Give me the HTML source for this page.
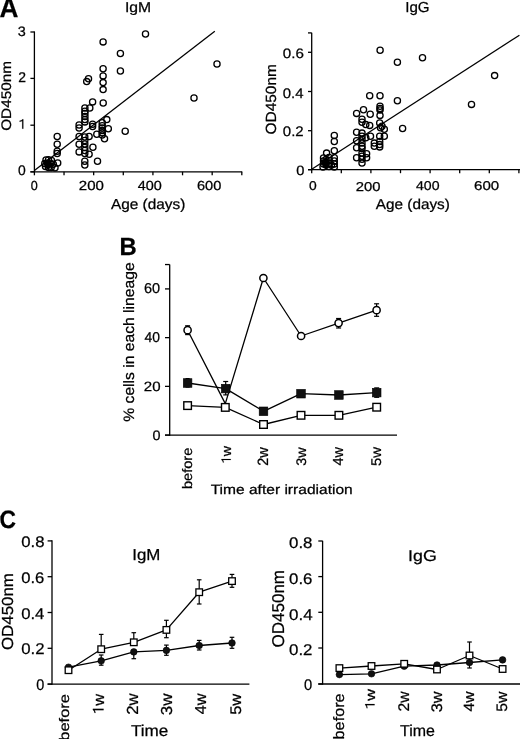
<!DOCTYPE html>
<html><head><meta charset="utf-8"><style>
html,body{margin:0;padding:0;background:#fff;}
svg{display:block;will-change:transform;}
text{font-family:"Liberation Sans", sans-serif;text-rendering:geometricPrecision;fill:#000;stroke:#000;stroke-width:0.25px;}
path{fill:#000;stroke:#000;}
</style></head><body>
<svg width="520" height="739" viewBox="0 0 520 739">
<rect id="bg" width="520" height="739" fill="#fff"/>
<line x1="34.4" y1="31.4" x2="34.4" y2="172.4" stroke="#000" stroke-width="1.3"/>
<line x1="30.4" y1="171.8" x2="242.2" y2="171.8" stroke="#000" stroke-width="1.3"/>
<line x1="30.4" y1="32" x2="34.4" y2="32" stroke="#000" stroke-width="1.3"/>
<line x1="30.4" y1="78.4" x2="34.4" y2="78.4" stroke="#000" stroke-width="1.3"/>
<line x1="30.4" y1="125.2" x2="34.4" y2="125.2" stroke="#000" stroke-width="1.3"/>
<line x1="30.4" y1="171.8" x2="34.4" y2="171.8" stroke="#000" stroke-width="1.3"/>
<line x1="34.4" y1="171.8" x2="34.4" y2="175.3" stroke="#000" stroke-width="1.3"/>
<line x1="64.03" y1="171.8" x2="64.03" y2="175.3" stroke="#000" stroke-width="1.3"/>
<line x1="93.66" y1="171.8" x2="93.66" y2="175.3" stroke="#000" stroke-width="1.3"/>
<line x1="123.29" y1="171.8" x2="123.29" y2="175.3" stroke="#000" stroke-width="1.3"/>
<line x1="152.92" y1="171.8" x2="152.92" y2="175.3" stroke="#000" stroke-width="1.3"/>
<line x1="182.55" y1="171.8" x2="182.55" y2="175.3" stroke="#000" stroke-width="1.3"/>
<line x1="212.18" y1="171.8" x2="212.18" y2="175.3" stroke="#000" stroke-width="1.3"/>
<line x1="241.81" y1="171.8" x2="241.81" y2="175.3" stroke="#000" stroke-width="1.3"/>
<line x1="34.4" y1="170.6" x2="214.8" y2="31.2" stroke="#000" stroke-width="1.3"/>
<ellipse cx="48" cy="164.5" rx="3.8" ry="4.6" fill="#000"/>
<circle cx="103.1" cy="41.9" r="3.1" fill="none" stroke="#000" stroke-width="1.3"/>
<circle cx="120.4" cy="53.5" r="3.1" fill="none" stroke="#000" stroke-width="1.3"/>
<circle cx="145.5" cy="34" r="3.1" fill="none" stroke="#000" stroke-width="1.3"/>
<circle cx="217" cy="64" r="3.1" fill="none" stroke="#000" stroke-width="1.3"/>
<circle cx="194" cy="98" r="3.1" fill="none" stroke="#000" stroke-width="1.3"/>
<circle cx="120.4" cy="71" r="3.1" fill="none" stroke="#000" stroke-width="1.3"/>
<circle cx="103.1" cy="68.8" r="3.1" fill="none" stroke="#000" stroke-width="1.3"/>
<circle cx="103.1" cy="75.9" r="3.1" fill="none" stroke="#000" stroke-width="1.3"/>
<circle cx="103.1" cy="82.6" r="3.1" fill="none" stroke="#000" stroke-width="1.3"/>
<circle cx="103.1" cy="89.6" r="3.1" fill="none" stroke="#000" stroke-width="1.3"/>
<circle cx="88.5" cy="78.8" r="3.1" fill="none" stroke="#000" stroke-width="1.3"/>
<circle cx="86.7" cy="81.6" r="3.1" fill="none" stroke="#000" stroke-width="1.3"/>
<circle cx="92.6" cy="101.9" r="3.1" fill="none" stroke="#000" stroke-width="1.3"/>
<circle cx="103.2" cy="103" r="3.1" fill="none" stroke="#000" stroke-width="1.3"/>
<circle cx="84.9" cy="108" r="3.1" fill="none" stroke="#000" stroke-width="1.3"/>
<circle cx="84.9" cy="111.2" r="3.1" fill="none" stroke="#000" stroke-width="1.3"/>
<circle cx="84.9" cy="113.5" r="3.1" fill="none" stroke="#000" stroke-width="1.3"/>
<circle cx="84.9" cy="116.5" r="3.1" fill="none" stroke="#000" stroke-width="1.3"/>
<circle cx="84.9" cy="119.6" r="3.1" fill="none" stroke="#000" stroke-width="1.3"/>
<circle cx="84.9" cy="121.9" r="3.1" fill="none" stroke="#000" stroke-width="1.3"/>
<circle cx="89.8" cy="108" r="3.1" fill="none" stroke="#000" stroke-width="1.3"/>
<circle cx="79.1" cy="125" r="3.1" fill="none" stroke="#000" stroke-width="1.3"/>
<circle cx="79.1" cy="128" r="3.1" fill="none" stroke="#000" stroke-width="1.3"/>
<circle cx="92.6" cy="124.2" r="3.1" fill="none" stroke="#000" stroke-width="1.3"/>
<circle cx="92.6" cy="126.5" r="3.1" fill="none" stroke="#000" stroke-width="1.3"/>
<circle cx="106.8" cy="119.6" r="3.1" fill="none" stroke="#000" stroke-width="1.3"/>
<circle cx="102.2" cy="122.7" r="3.1" fill="none" stroke="#000" stroke-width="1.3"/>
<circle cx="102.2" cy="125.8" r="3.1" fill="none" stroke="#000" stroke-width="1.3"/>
<circle cx="102.2" cy="128" r="3.1" fill="none" stroke="#000" stroke-width="1.3"/>
<circle cx="102.2" cy="130.4" r="3.1" fill="none" stroke="#000" stroke-width="1.3"/>
<circle cx="102.2" cy="132.7" r="3.1" fill="none" stroke="#000" stroke-width="1.3"/>
<circle cx="102.2" cy="135" r="3.1" fill="none" stroke="#000" stroke-width="1.3"/>
<circle cx="108.3" cy="128.8" r="3.1" fill="none" stroke="#000" stroke-width="1.3"/>
<circle cx="96.8" cy="134.2" r="3.1" fill="none" stroke="#000" stroke-width="1.3"/>
<circle cx="104.5" cy="138.8" r="3.1" fill="none" stroke="#000" stroke-width="1.3"/>
<circle cx="125.2" cy="131.3" r="3.1" fill="none" stroke="#000" stroke-width="1.3"/>
<circle cx="79.1" cy="136.5" r="3.1" fill="none" stroke="#000" stroke-width="1.3"/>
<circle cx="79.1" cy="144.2" r="3.1" fill="none" stroke="#000" stroke-width="1.3"/>
<circle cx="79.1" cy="151.9" r="3.1" fill="none" stroke="#000" stroke-width="1.3"/>
<circle cx="84.8" cy="137" r="3.1" fill="none" stroke="#000" stroke-width="1.3"/>
<circle cx="84.8" cy="140.5" r="3.1" fill="none" stroke="#000" stroke-width="1.3"/>
<circle cx="84.8" cy="144" r="3.1" fill="none" stroke="#000" stroke-width="1.3"/>
<circle cx="84.8" cy="147.5" r="3.1" fill="none" stroke="#000" stroke-width="1.3"/>
<circle cx="84.8" cy="150.5" r="3.1" fill="none" stroke="#000" stroke-width="1.3"/>
<circle cx="84.8" cy="153.5" r="3.1" fill="none" stroke="#000" stroke-width="1.3"/>
<circle cx="84.8" cy="161.3" r="3.1" fill="none" stroke="#000" stroke-width="1.3"/>
<circle cx="84.8" cy="165" r="3.1" fill="none" stroke="#000" stroke-width="1.3"/>
<circle cx="89.1" cy="136.5" r="3.1" fill="none" stroke="#000" stroke-width="1.3"/>
<circle cx="92.9" cy="147.3" r="3.1" fill="none" stroke="#000" stroke-width="1.3"/>
<circle cx="89.1" cy="154.2" r="3.1" fill="none" stroke="#000" stroke-width="1.3"/>
<circle cx="97.5" cy="161.2" r="3.1" fill="none" stroke="#000" stroke-width="1.3"/>
<circle cx="57.2" cy="136.5" r="3.1" fill="none" stroke="#000" stroke-width="1.3"/>
<circle cx="57.2" cy="144.2" r="3.1" fill="none" stroke="#000" stroke-width="1.3"/>
<circle cx="57.2" cy="151.2" r="3.1" fill="none" stroke="#000" stroke-width="1.3"/>
<circle cx="57.2" cy="153.5" r="3.1" fill="none" stroke="#000" stroke-width="1.3"/>
<circle cx="46" cy="160" r="3.1" fill="none" stroke="#000" stroke-width="1.3"/>
<circle cx="48.5" cy="159.8" r="3.1" fill="none" stroke="#000" stroke-width="1.3"/>
<circle cx="44.8" cy="163.5" r="3.1" fill="none" stroke="#000" stroke-width="1.3"/>
<circle cx="47.5" cy="163" r="3.1" fill="none" stroke="#000" stroke-width="1.3"/>
<circle cx="50.2" cy="163.2" r="3.1" fill="none" stroke="#000" stroke-width="1.3"/>
<circle cx="45.5" cy="166.5" r="3.1" fill="none" stroke="#000" stroke-width="1.3"/>
<circle cx="48.5" cy="167.5" r="3.1" fill="none" stroke="#000" stroke-width="1.3"/>
<circle cx="51.2" cy="167.5" r="3.1" fill="none" stroke="#000" stroke-width="1.3"/>
<circle cx="57.7" cy="163" r="3.1" fill="none" stroke="#000" stroke-width="1.3"/>
<circle cx="55" cy="167.8" r="3.1" fill="none" stroke="#000" stroke-width="1.3"/>
<circle cx="53.3" cy="164.3" r="3.1" fill="none" stroke="#000" stroke-width="1.3"/>
<circle cx="51.5" cy="160.5" r="3.1" fill="none" stroke="#000" stroke-width="1.3"/>
<line x1="311.7" y1="32.7" x2="311.7" y2="170.3" stroke="#000" stroke-width="1.3"/>
<line x1="308" y1="169.7" x2="520" y2="169.7" stroke="#000" stroke-width="1.3"/>
<line x1="308" y1="32.9" x2="311.7" y2="32.9" stroke="#000" stroke-width="1.3"/>
<line x1="308" y1="52.3" x2="311.7" y2="52.3" stroke="#000" stroke-width="1.3"/>
<line x1="308" y1="91.5" x2="311.7" y2="91.5" stroke="#000" stroke-width="1.3"/>
<line x1="308" y1="130.7" x2="311.7" y2="130.7" stroke="#000" stroke-width="1.3"/>
<line x1="308" y1="169.7" x2="311.7" y2="169.7" stroke="#000" stroke-width="1.3"/>
<line x1="311.7" y1="169.7" x2="311.7" y2="173.2" stroke="#000" stroke-width="1.3"/>
<line x1="341.3" y1="169.7" x2="341.3" y2="173.2" stroke="#000" stroke-width="1.3"/>
<line x1="370.9" y1="169.7" x2="370.9" y2="173.2" stroke="#000" stroke-width="1.3"/>
<line x1="400.5" y1="169.7" x2="400.5" y2="173.2" stroke="#000" stroke-width="1.3"/>
<line x1="430.1" y1="169.7" x2="430.1" y2="173.2" stroke="#000" stroke-width="1.3"/>
<line x1="459.7" y1="169.7" x2="459.7" y2="173.2" stroke="#000" stroke-width="1.3"/>
<line x1="489.3" y1="169.7" x2="489.3" y2="173.2" stroke="#000" stroke-width="1.3"/>
<line x1="518.9" y1="169.7" x2="518.9" y2="173.2" stroke="#000" stroke-width="1.3"/>
<line x1="311.7" y1="169.2" x2="519.4" y2="35.2" stroke="#000" stroke-width="1.3"/>
<ellipse cx="325.8" cy="163" rx="3.6" ry="5" fill="#000"/>
<circle cx="380.1" cy="50.2" r="3.1" fill="none" stroke="#000" stroke-width="1.3"/>
<circle cx="397.4" cy="62.3" r="3.1" fill="none" stroke="#000" stroke-width="1.3"/>
<circle cx="422.5" cy="57.7" r="3.1" fill="none" stroke="#000" stroke-width="1.3"/>
<circle cx="494.6" cy="75.6" r="3.1" fill="none" stroke="#000" stroke-width="1.3"/>
<circle cx="397.4" cy="100.7" r="3.1" fill="none" stroke="#000" stroke-width="1.3"/>
<circle cx="471.5" cy="104.4" r="3.1" fill="none" stroke="#000" stroke-width="1.3"/>
<circle cx="402.6" cy="128.5" r="3.1" fill="none" stroke="#000" stroke-width="1.3"/>
<circle cx="369.7" cy="95.8" r="3.1" fill="none" stroke="#000" stroke-width="1.3"/>
<circle cx="380" cy="95.8" r="3.1" fill="none" stroke="#000" stroke-width="1.3"/>
<circle cx="356.6" cy="113.4" r="3.1" fill="none" stroke="#000" stroke-width="1.3"/>
<circle cx="363.5" cy="109.7" r="3.1" fill="none" stroke="#000" stroke-width="1.3"/>
<circle cx="370.2" cy="114.2" r="3.1" fill="none" stroke="#000" stroke-width="1.3"/>
<circle cx="380" cy="106.2" r="3.1" fill="none" stroke="#000" stroke-width="1.3"/>
<circle cx="380" cy="108.5" r="3.1" fill="none" stroke="#000" stroke-width="1.3"/>
<circle cx="380" cy="110" r="3.1" fill="none" stroke="#000" stroke-width="1.3"/>
<circle cx="380" cy="115.4" r="3.1" fill="none" stroke="#000" stroke-width="1.3"/>
<circle cx="362" cy="119.2" r="3.1" fill="none" stroke="#000" stroke-width="1.3"/>
<circle cx="362" cy="122.3" r="3.1" fill="none" stroke="#000" stroke-width="1.3"/>
<circle cx="365.8" cy="124.6" r="3.1" fill="none" stroke="#000" stroke-width="1.3"/>
<circle cx="369.7" cy="125.4" r="3.1" fill="none" stroke="#000" stroke-width="1.3"/>
<circle cx="379.7" cy="123" r="3.1" fill="none" stroke="#000" stroke-width="1.3"/>
<circle cx="382" cy="126.2" r="3.1" fill="none" stroke="#000" stroke-width="1.3"/>
<circle cx="384.3" cy="129.2" r="3.1" fill="none" stroke="#000" stroke-width="1.3"/>
<circle cx="380.5" cy="127.7" r="3.1" fill="none" stroke="#000" stroke-width="1.3"/>
<circle cx="356.6" cy="132.3" r="3.1" fill="none" stroke="#000" stroke-width="1.3"/>
<circle cx="356.6" cy="140.8" r="3.1" fill="none" stroke="#000" stroke-width="1.3"/>
<circle cx="356.6" cy="147.7" r="3.1" fill="none" stroke="#000" stroke-width="1.3"/>
<circle cx="356.6" cy="157.7" r="3.1" fill="none" stroke="#000" stroke-width="1.3"/>
<circle cx="362" cy="133.1" r="3.1" fill="none" stroke="#000" stroke-width="1.3"/>
<circle cx="362" cy="136.2" r="3.1" fill="none" stroke="#000" stroke-width="1.3"/>
<circle cx="362" cy="139.2" r="3.1" fill="none" stroke="#000" stroke-width="1.3"/>
<circle cx="362" cy="143.1" r="3.1" fill="none" stroke="#000" stroke-width="1.3"/>
<circle cx="362" cy="146.2" r="3.1" fill="none" stroke="#000" stroke-width="1.3"/>
<circle cx="362" cy="148.5" r="3.1" fill="none" stroke="#000" stroke-width="1.3"/>
<circle cx="365.8" cy="137.7" r="3.1" fill="none" stroke="#000" stroke-width="1.3"/>
<circle cx="370.5" cy="136.2" r="3.1" fill="none" stroke="#000" stroke-width="1.3"/>
<circle cx="362" cy="153.1" r="3.1" fill="none" stroke="#000" stroke-width="1.3"/>
<circle cx="362" cy="156.2" r="3.1" fill="none" stroke="#000" stroke-width="1.3"/>
<circle cx="362" cy="159.2" r="3.1" fill="none" stroke="#000" stroke-width="1.3"/>
<circle cx="362" cy="163.1" r="3.1" fill="none" stroke="#000" stroke-width="1.3"/>
<circle cx="366.6" cy="153.8" r="3.1" fill="none" stroke="#000" stroke-width="1.3"/>
<circle cx="366.6" cy="157.7" r="3.1" fill="none" stroke="#000" stroke-width="1.3"/>
<circle cx="374.3" cy="143.1" r="3.1" fill="none" stroke="#000" stroke-width="1.3"/>
<circle cx="374.3" cy="146.2" r="3.1" fill="none" stroke="#000" stroke-width="1.3"/>
<circle cx="379.7" cy="136.2" r="3.1" fill="none" stroke="#000" stroke-width="1.3"/>
<circle cx="384.3" cy="136.2" r="3.1" fill="none" stroke="#000" stroke-width="1.3"/>
<circle cx="379.7" cy="141.5" r="3.1" fill="none" stroke="#000" stroke-width="1.3"/>
<circle cx="379.7" cy="144.6" r="3.1" fill="none" stroke="#000" stroke-width="1.3"/>
<circle cx="379.7" cy="146.9" r="3.1" fill="none" stroke="#000" stroke-width="1.3"/>
<circle cx="334.3" cy="135.4" r="3.1" fill="none" stroke="#000" stroke-width="1.3"/>
<circle cx="334.3" cy="141.5" r="3.1" fill="none" stroke="#000" stroke-width="1.3"/>
<circle cx="334.3" cy="150.8" r="3.1" fill="none" stroke="#000" stroke-width="1.3"/>
<circle cx="326.6" cy="153.1" r="3.1" fill="none" stroke="#000" stroke-width="1.3"/>
<circle cx="334.3" cy="157.7" r="3.1" fill="none" stroke="#000" stroke-width="1.3"/>
<circle cx="323.5" cy="158" r="3.1" fill="none" stroke="#000" stroke-width="1.3"/>
<circle cx="323.5" cy="161" r="3.1" fill="none" stroke="#000" stroke-width="1.3"/>
<circle cx="323.5" cy="164" r="3.1" fill="none" stroke="#000" stroke-width="1.3"/>
<circle cx="323" cy="167" r="3.1" fill="none" stroke="#000" stroke-width="1.3"/>
<circle cx="329" cy="157.5" r="3.1" fill="none" stroke="#000" stroke-width="1.3"/>
<circle cx="329" cy="160.5" r="3.1" fill="none" stroke="#000" stroke-width="1.3"/>
<circle cx="329" cy="163.5" r="3.1" fill="none" stroke="#000" stroke-width="1.3"/>
<circle cx="329" cy="166.5" r="3.1" fill="none" stroke="#000" stroke-width="1.3"/>
<circle cx="334.3" cy="161" r="3.1" fill="none" stroke="#000" stroke-width="1.3"/>
<circle cx="334.3" cy="164" r="3.1" fill="none" stroke="#000" stroke-width="1.3"/>
<circle cx="334.3" cy="167" r="3.1" fill="none" stroke="#000" stroke-width="1.3"/>
<circle cx="326" cy="165" r="3.1" fill="none" stroke="#000" stroke-width="1.3"/>
<circle cx="331.5" cy="165" r="3.1" fill="none" stroke="#000" stroke-width="1.3"/>
<circle cx="326" cy="159.5" r="3.1" fill="none" stroke="#000" stroke-width="1.3"/>
<circle cx="326" cy="162.5" r="3.1" fill="none" stroke="#000" stroke-width="1.3"/>
<line x1="169.7" y1="264.6" x2="169.7" y2="435.7" stroke="#000" stroke-width="1.3"/>
<line x1="165" y1="435.1" x2="397" y2="435.1" stroke="#000" stroke-width="1.3"/>
<line x1="165" y1="264.55" x2="169.7" y2="264.55" stroke="#000" stroke-width="1.3"/>
<line x1="165" y1="288.91" x2="169.7" y2="288.91" stroke="#000" stroke-width="1.3"/>
<line x1="165" y1="337.64" x2="169.7" y2="337.64" stroke="#000" stroke-width="1.3"/>
<line x1="165" y1="386.37" x2="169.7" y2="386.37" stroke="#000" stroke-width="1.3"/>
<line x1="165" y1="435.1" x2="169.7" y2="435.1" stroke="#000" stroke-width="1.3"/>
<polyline points="187.6,330.2 225.3,403.6 263.4,278 301.1,336 338.6,323.1 376.6,310.2" fill="none" stroke="#000" stroke-width="1.3" stroke-linejoin="round"/>
<polyline points="187.6,383 225.7,388.6 263.5,411.3 301,393.7 338.9,395 376.7,392.6" fill="none" stroke="#000" stroke-width="1.3" stroke-linejoin="round"/>
<polyline points="187.6,405.6 225.3,407.4 263.5,424.5 301,415.3 338.9,415.3 376.7,407.2" fill="none" stroke="#000" stroke-width="1.3" stroke-linejoin="round"/>
<line x1="187.6" y1="325.8" x2="187.6" y2="334.6" stroke="#000" stroke-width="1.2"/>
<line x1="185.1" y1="325.8" x2="190.1" y2="325.8" stroke="#000" stroke-width="1.2"/>
<line x1="185.1" y1="334.6" x2="190.1" y2="334.6" stroke="#000" stroke-width="1.2"/>
<line x1="338.6" y1="318.5" x2="338.6" y2="328" stroke="#000" stroke-width="1.2"/>
<line x1="336.1" y1="318.5" x2="341.1" y2="318.5" stroke="#000" stroke-width="1.2"/>
<line x1="336.1" y1="328" x2="341.1" y2="328" stroke="#000" stroke-width="1.2"/>
<line x1="376.6" y1="303.8" x2="376.6" y2="316.3" stroke="#000" stroke-width="1.2"/>
<line x1="374.1" y1="303.8" x2="379.1" y2="303.8" stroke="#000" stroke-width="1.2"/>
<line x1="374.1" y1="316.3" x2="379.1" y2="316.3" stroke="#000" stroke-width="1.2"/>
<line x1="225.7" y1="381.5" x2="225.7" y2="394.9" stroke="#000" stroke-width="1.2"/>
<line x1="223.2" y1="381.5" x2="228.2" y2="381.5" stroke="#000" stroke-width="1.2"/>
<line x1="223.2" y1="394.9" x2="228.2" y2="394.9" stroke="#000" stroke-width="1.2"/>
<line x1="376.7" y1="387.9" x2="376.7" y2="397.3" stroke="#000" stroke-width="1.2"/>
<line x1="374.2" y1="387.9" x2="379.2" y2="387.9" stroke="#000" stroke-width="1.2"/>
<line x1="374.2" y1="397.3" x2="379.2" y2="397.3" stroke="#000" stroke-width="1.2"/>
<line x1="187.6" y1="378.6" x2="187.6" y2="387" stroke="#000" stroke-width="1.2"/>
<line x1="185.6" y1="378.6" x2="189.6" y2="378.6" stroke="#000" stroke-width="1.2"/>
<line x1="185.6" y1="387" x2="189.6" y2="387" stroke="#000" stroke-width="1.2"/>
<circle cx="187.6" cy="330.2" r="3.6" fill="#fff" stroke="#000" stroke-width="1.5"/>
<circle cx="263.4" cy="278" r="3.6" fill="#fff" stroke="#000" stroke-width="1.5"/>
<circle cx="301.1" cy="336" r="3.6" fill="#fff" stroke="#000" stroke-width="1.5"/>
<circle cx="338.6" cy="323.1" r="3.6" fill="#fff" stroke="#000" stroke-width="1.5"/>
<circle cx="376.6" cy="310.2" r="3.6" fill="#fff" stroke="#000" stroke-width="1.5"/>
<rect x="183.3" y="378.7" width="8.6" height="8.6" fill="#111" stroke="#000" stroke-width="0.6"/>
<rect x="221.4" y="384.3" width="8.6" height="8.6" fill="#111" stroke="#000" stroke-width="0.6"/>
<rect x="259.2" y="407" width="8.6" height="8.6" fill="#111" stroke="#000" stroke-width="0.6"/>
<rect x="296.7" y="389.4" width="8.6" height="8.6" fill="#111" stroke="#000" stroke-width="0.6"/>
<rect x="334.6" y="390.7" width="8.6" height="8.6" fill="#111" stroke="#000" stroke-width="0.6"/>
<rect x="372.4" y="388.3" width="8.6" height="8.6" fill="#111" stroke="#000" stroke-width="0.6"/>
<rect x="183.8" y="401.8" width="7.6" height="7.6" fill="#fff" stroke="#000" stroke-width="1.4"/>
<rect x="221.5" y="403.6" width="7.6" height="7.6" fill="#fff" stroke="#000" stroke-width="1.4"/>
<rect x="259.7" y="420.7" width="7.6" height="7.6" fill="#fff" stroke="#000" stroke-width="1.4"/>
<rect x="297.2" y="411.5" width="7.6" height="7.6" fill="#fff" stroke="#000" stroke-width="1.4"/>
<rect x="335.1" y="411.5" width="7.6" height="7.6" fill="#fff" stroke="#000" stroke-width="1.4"/>
<rect x="372.9" y="403.4" width="7.6" height="7.6" fill="#fff" stroke="#000" stroke-width="1.4"/>
<line x1="52" y1="540.3" x2="52" y2="684.7" stroke="#000" stroke-width="1.3"/>
<line x1="47.6" y1="684.1" x2="249.4" y2="684.1" stroke="#000" stroke-width="1.3"/>
<line x1="47.6" y1="540.9" x2="52" y2="540.9" stroke="#000" stroke-width="1.3"/>
<line x1="47.6" y1="576.7" x2="52" y2="576.7" stroke="#000" stroke-width="1.3"/>
<line x1="47.6" y1="612.5" x2="52" y2="612.5" stroke="#000" stroke-width="1.3"/>
<line x1="47.6" y1="648.3" x2="52" y2="648.3" stroke="#000" stroke-width="1.3"/>
<line x1="47.6" y1="684.1" x2="52" y2="684.1" stroke="#000" stroke-width="1.3"/>
<polyline points="68.5,670.2 101.2,649.2 133.8,642.3 166.4,629.9 199.2,592.2 232,581.1" fill="none" stroke="#000" stroke-width="1.3" stroke-linejoin="round"/>
<polyline points="68.5,667.2 101.2,660.8 133.8,651.9 166.4,650.4 199.2,645.5 232,643" fill="none" stroke="#000" stroke-width="1.3" stroke-linejoin="round"/>
<line x1="101.2" y1="655" x2="101.2" y2="665.2" stroke="#000" stroke-width="1.2"/>
<line x1="98.9" y1="655" x2="103.5" y2="655" stroke="#000" stroke-width="1.2"/>
<line x1="98.9" y1="665.2" x2="103.5" y2="665.2" stroke="#000" stroke-width="1.2"/>
<line x1="133.8" y1="651.9" x2="133.8" y2="658.7" stroke="#000" stroke-width="1.2"/>
<line x1="131.5" y1="651.9" x2="136.1" y2="651.9" stroke="#000" stroke-width="1.2"/>
<line x1="131.5" y1="658.7" x2="136.1" y2="658.7" stroke="#000" stroke-width="1.2"/>
<line x1="166.4" y1="645.1" x2="166.4" y2="655.3" stroke="#000" stroke-width="1.2"/>
<line x1="164.1" y1="645.1" x2="168.7" y2="645.1" stroke="#000" stroke-width="1.2"/>
<line x1="164.1" y1="655.3" x2="168.7" y2="655.3" stroke="#000" stroke-width="1.2"/>
<line x1="199.2" y1="640.4" x2="199.2" y2="650" stroke="#000" stroke-width="1.2"/>
<line x1="196.9" y1="640.4" x2="201.5" y2="640.4" stroke="#000" stroke-width="1.2"/>
<line x1="196.9" y1="650" x2="201.5" y2="650" stroke="#000" stroke-width="1.2"/>
<line x1="232" y1="637.3" x2="232" y2="648.3" stroke="#000" stroke-width="1.2"/>
<line x1="229.7" y1="637.3" x2="234.3" y2="637.3" stroke="#000" stroke-width="1.2"/>
<line x1="229.7" y1="648.3" x2="234.3" y2="648.3" stroke="#000" stroke-width="1.2"/>
<circle cx="68.5" cy="667.2" r="3.3" fill="#111" stroke="#000" stroke-width="0.6"/>
<circle cx="101.2" cy="660.8" r="3.3" fill="#111" stroke="#000" stroke-width="0.6"/>
<circle cx="133.8" cy="651.9" r="3.3" fill="#111" stroke="#000" stroke-width="0.6"/>
<circle cx="166.4" cy="650.4" r="3.3" fill="#111" stroke="#000" stroke-width="0.6"/>
<circle cx="199.2" cy="645.5" r="3.3" fill="#111" stroke="#000" stroke-width="0.6"/>
<circle cx="232" cy="643" r="3.3" fill="#111" stroke="#000" stroke-width="0.6"/>
<line x1="101.2" y1="634.4" x2="101.2" y2="649.2" stroke="#000" stroke-width="1.2"/>
<line x1="98.9" y1="634.4" x2="103.5" y2="634.4" stroke="#000" stroke-width="1.2"/>
<line x1="98.9" y1="649.2" x2="103.5" y2="649.2" stroke="#000" stroke-width="1.2"/>
<line x1="133.8" y1="632.7" x2="133.8" y2="642.3" stroke="#000" stroke-width="1.2"/>
<line x1="131.5" y1="632.7" x2="136.1" y2="632.7" stroke="#000" stroke-width="1.2"/>
<line x1="131.5" y1="642.3" x2="136.1" y2="642.3" stroke="#000" stroke-width="1.2"/>
<line x1="166.4" y1="620.3" x2="166.4" y2="637.7" stroke="#000" stroke-width="1.2"/>
<line x1="164.1" y1="620.3" x2="168.7" y2="620.3" stroke="#000" stroke-width="1.2"/>
<line x1="164.1" y1="637.7" x2="168.7" y2="637.7" stroke="#000" stroke-width="1.2"/>
<line x1="199.2" y1="579.8" x2="199.2" y2="604" stroke="#000" stroke-width="1.2"/>
<line x1="196.9" y1="579.8" x2="201.5" y2="579.8" stroke="#000" stroke-width="1.2"/>
<line x1="196.9" y1="604" x2="201.5" y2="604" stroke="#000" stroke-width="1.2"/>
<line x1="232" y1="574.4" x2="232" y2="587.3" stroke="#000" stroke-width="1.2"/>
<line x1="229.7" y1="574.4" x2="234.3" y2="574.4" stroke="#000" stroke-width="1.2"/>
<line x1="229.7" y1="587.3" x2="234.3" y2="587.3" stroke="#000" stroke-width="1.2"/>
<rect x="65.2" y="666.9" width="6.6" height="6.6" fill="#fff" stroke="#000" stroke-width="1.3"/>
<rect x="97.9" y="645.9" width="6.6" height="6.6" fill="#fff" stroke="#000" stroke-width="1.3"/>
<rect x="130.5" y="639" width="6.6" height="6.6" fill="#fff" stroke="#000" stroke-width="1.3"/>
<rect x="163.1" y="626.6" width="6.6" height="6.6" fill="#fff" stroke="#000" stroke-width="1.3"/>
<rect x="195.9" y="588.9" width="6.6" height="6.6" fill="#fff" stroke="#000" stroke-width="1.3"/>
<rect x="228.7" y="577.8" width="6.6" height="6.6" fill="#fff" stroke="#000" stroke-width="1.3"/>
<line x1="322.6" y1="540.8" x2="322.6" y2="684.6" stroke="#000" stroke-width="1.3"/>
<line x1="318.3" y1="684" x2="520" y2="684" stroke="#000" stroke-width="1.3"/>
<line x1="318.3" y1="541" x2="322.6" y2="541" stroke="#000" stroke-width="1.3"/>
<line x1="318.3" y1="576.6" x2="322.6" y2="576.6" stroke="#000" stroke-width="1.3"/>
<line x1="318.3" y1="612.3" x2="322.6" y2="612.3" stroke="#000" stroke-width="1.3"/>
<line x1="318.3" y1="648" x2="322.6" y2="648" stroke="#000" stroke-width="1.3"/>
<line x1="318.3" y1="684" x2="322.6" y2="684" stroke="#000" stroke-width="1.3"/>
<polyline points="339.4,674.6 371.5,673.8 404.2,666.2 437,665 469.5,662.5 502.6,659.9" fill="none" stroke="#000" stroke-width="1.3" stroke-linejoin="round"/>
<polyline points="339.4,668.1 371.5,666 404.2,663.8 437,669.5 469.5,655.5 502.6,669" fill="none" stroke="#000" stroke-width="1.3" stroke-linejoin="round"/>
<line x1="469.5" y1="655.5" x2="469.5" y2="668" stroke="#000" stroke-width="1.2"/>
<line x1="467.2" y1="655.5" x2="471.8" y2="655.5" stroke="#000" stroke-width="1.2"/>
<line x1="467.2" y1="668" x2="471.8" y2="668" stroke="#000" stroke-width="1.2"/>
<circle cx="339.4" cy="674.6" r="3.3" fill="#111" stroke="#000" stroke-width="0.6"/>
<circle cx="371.5" cy="673.8" r="3.3" fill="#111" stroke="#000" stroke-width="0.6"/>
<circle cx="404.2" cy="666.2" r="3.3" fill="#111" stroke="#000" stroke-width="0.6"/>
<circle cx="437" cy="665" r="3.3" fill="#111" stroke="#000" stroke-width="0.6"/>
<circle cx="469.5" cy="662.5" r="3.3" fill="#111" stroke="#000" stroke-width="0.6"/>
<circle cx="502.6" cy="659.9" r="3.3" fill="#111" stroke="#000" stroke-width="0.6"/>
<line x1="469.5" y1="642" x2="469.5" y2="655.5" stroke="#000" stroke-width="1.2"/>
<line x1="467.2" y1="642" x2="471.8" y2="642" stroke="#000" stroke-width="1.2"/>
<line x1="467.2" y1="655.5" x2="471.8" y2="655.5" stroke="#000" stroke-width="1.2"/>
<rect x="336.1" y="664.8" width="6.6" height="6.6" fill="#fff" stroke="#000" stroke-width="1.3"/>
<rect x="368.2" y="662.7" width="6.6" height="6.6" fill="#fff" stroke="#000" stroke-width="1.3"/>
<rect x="400.9" y="660.5" width="6.6" height="6.6" fill="#fff" stroke="#000" stroke-width="1.3"/>
<rect x="433.7" y="666.2" width="6.6" height="6.6" fill="#fff" stroke="#000" stroke-width="1.3"/>
<rect x="466.2" y="652.2" width="6.6" height="6.6" fill="#fff" stroke="#000" stroke-width="1.3"/>
<rect x="499.3" y="665.7" width="6.6" height="6.6" fill="#fff" stroke="#000" stroke-width="1.3"/>
<g id="t0" transform="translate(-0.42,17.12) scale(0.9650,1)"><text font-size="27.172" font-weight="bold">A</text></g>
<g id="t1" transform="translate(119.59,254.9) scale(0.9588,1)"><text font-size="24.843" font-weight="bold">B</text></g>
<g id="t2" transform="translate(-0.43,528.07) scale(0.9108,1)"><text font-size="25.119" font-weight="bold">C</text></g>
<g id="t3" transform="translate(124.95,11.52) scale(1.0963,1)"><text font-size="14.347">IgM</text></g>
<g id="t4" transform="translate(405.2,11.77) scale(1.0444,1)"><text font-size="14.492">IgG</text></g>
<g id="t5" transform="translate(11.01,130.78) rotate(-90) scale(1.1053,1)"><text font-size="13.833">OD450nm</text></g>
<g id="t6" transform="translate(275.57,134.58) rotate(-90) scale(1.0489,1)"><text font-size="14.754">OD450nm</text></g>
<g id="t7" transform="translate(17.74,36.29) scale(1.0548,1)"><text font-size="13.677">3</text></g>
<g id="t8" transform="translate(18.2,82.3) scale(0.9891,1)"><text font-size="14.103">2</text></g>
<g id="t9" transform="translate(17.91,175.46) scale(0.9992,1)"><text font-size="13.913">0</text></g>
<g id="t10" transform="translate(18.07,128.74) scale(1.0976,1)"><path transform="translate(0.000,0) scale(0.01342,-0.01342)" d="M359,0 L359,703 L290,703 Q268,612 101,590 L101,525 Q216,536 279,584 L279,0 Z" stroke-width="8.94"/></g>
<g id="t11" transform="translate(30.68,189.64) scale(0.9581,1)"><text font-size="13.122">0</text></g>
<g id="t12" transform="translate(78.83,189.53) scale(1.1351,1)"><text font-size="13.254">200</text></g>
<g id="t13" transform="translate(137.69,189.59) scale(1.0917,1)"><text font-size="13.235">400</text></g>
<g id="t14" transform="translate(196.89,189.72) scale(1.1096,1)"><text font-size="13.167">600</text></g>
<g id="t15" transform="translate(110.96,208.55) scale(1.0661,1)"><text font-size="14.438">Age (days)</text></g>
<g id="t16" transform="translate(282.78,57.97) scale(1.1043,1)"><text font-size="13.741">0.6</text></g>
<g id="t17" transform="translate(282.82,98.08) scale(1.0740,1)"><text font-size="13.896">0.4</text></g>
<g id="t18" transform="translate(282.8,136.47) scale(1.0826,1)"><text font-size="13.886">0.2</text></g>
<g id="t19" transform="translate(296.34,174.97) scale(1.0891,1)"><text font-size="13.440">0</text></g>
<g id="t20" transform="translate(308.95,189.95) scale(1.0847,1)"><text font-size="12.784">0</text></g>
<g id="t21" transform="translate(355.86,190.97) scale(1.1502,1)"><text font-size="12.881">200</text></g>
<g id="t22" transform="translate(415.96,189.98) scale(1.1032,1)"><text font-size="12.808">400</text></g>
<g id="t23" transform="translate(474.02,189.94) scale(1.1819,1)"><text font-size="12.750">600</text></g>
<g id="t24" transform="translate(375.78,209.23) scale(1.0711,1)"><text font-size="14.310">Age (days)</text></g>
<g id="t25" transform="translate(143.95,292.98) scale(1.0140,1)"><text font-size="14.320">60</text></g>
<g id="t26" transform="translate(144.55,341.98) scale(0.9721,1)"><text font-size="14.313">40</text></g>
<g id="t27" transform="translate(143.87,391.16) scale(1.1201,1)"><text font-size="13.426">20</text></g>
<g id="t28" transform="translate(152.6,440.38) scale(1.0460,1)"><text font-size="13.765">0</text></g>
<g id="t29" transform="translate(134.14,421.7) rotate(-90) scale(1.0440,1)"><text font-size="15.000">&#37; cells in each lineage</text></g>
<g id="t30" transform="translate(192.39,489.07) rotate(-90) scale(1.0575,1)"><text font-size="13.818">before</text></g>
<g id="t31" transform="translate(230.76,464.02) rotate(-90) scale(1.0660,1)"><path transform="translate(0.000,0) scale(0.01326,-0.01326)" d="M359,0 L359,703 L290,703 Q268,612 101,590 L101,525 Q216,536 279,584 L279,0 Z" stroke-width="9.05"/><text x="7.371" font-size="13.256">w</text></g>
<g id="t32" transform="translate(268.19,465.85) rotate(-90) scale(0.9693,1)"><text font-size="14.912">2w</text></g>
<g id="t33" transform="translate(306.03,465.81) rotate(-90) scale(1.0363,1)"><text font-size="13.859">3w</text></g>
<g id="t34" transform="translate(342.78,465.51) rotate(-90) scale(0.9909,1)"><text font-size="14.564">4w</text></g>
<g id="t35" transform="translate(381.29,466) rotate(-90) scale(1.0548,1)"><text font-size="14.056">5w</text></g>
<g id="t36" transform="translate(210.63,493.68) scale(1.1580,1)"><text font-size="13.454">Time after irradiation</text></g>
<g id="t37" transform="translate(132.19,559.82) scale(1.0659,1)"><text font-size="15.851">IgM</text></g>
<g id="t38" transform="translate(21.19,547.21) scale(1.0930,1)"><text font-size="15.321">0.8</text></g>
<g id="t39" transform="translate(21.19,583.02) scale(1.0841,1)"><text font-size="15.354">0.6</text></g>
<g id="t40" transform="translate(21.16,618.95) scale(1.0794,1)"><text font-size="15.498">0.4</text></g>
<g id="t41" transform="translate(21.14,654.17) scale(1.0795,1)"><text font-size="15.558">0.2</text></g>
<g id="t42" transform="translate(36.13,690.08) scale(0.9296,1)"><text font-size="15.537">0</text></g>
<g id="t43" transform="translate(12.86,650.07) rotate(-90) scale(1.0544,1)"><text font-size="16.027">OD450nm</text></g>
<g id="t44" transform="translate(103.59,714.69) rotate(-90) scale(1.0678,1)"><path transform="translate(0.000,0) scale(0.01528,-0.01528)" d="M359,0 L359,703 L290,703 Q268,612 101,590 L101,525 Q216,536 279,584 L279,0 Z" stroke-width="7.86"/><text x="8.493" font-size="15.276">w</text></g>
<g id="t45" transform="translate(138.39,714.76) rotate(-90) scale(1.0423,1)"><text font-size="16.022">2w</text></g>
<g id="t46" transform="translate(171.76,715.22) rotate(-90) scale(1.0639,1)"><text font-size="15.879">3w</text></g>
<g id="t47" transform="translate(205.78,714.3) rotate(-90) scale(1.0264,1)"><text font-size="15.831">4w</text></g>
<g id="t48" transform="translate(241.15,714.81) rotate(-90) scale(1.0717,1)"><text font-size="15.389">5w</text></g>
<g id="t49" transform="translate(131,735.67) scale(1.0847,1)"><text font-size="15.770">Time</text></g>
<g id="t50" transform="translate(408.12,560.56) scale(1.1401,1)"><text font-size="15.617">IgG</text></g>
<g id="t51" transform="translate(289.09,548.26) scale(1.0944,1)"><text font-size="15.396">0.8</text></g>
<g id="t52" transform="translate(289.09,583.62) scale(1.0947,1)"><text font-size="15.337">0.6</text></g>
<g id="t53" transform="translate(289.06,619.53) scale(1.0918,1)"><text font-size="15.502">0.4</text></g>
<g id="t54" transform="translate(289.06,655.35) scale(1.0869,1)"><text font-size="15.531">0.2</text></g>
<g id="t55" transform="translate(304.12,689.79) scale(0.9461,1)"><text font-size="15.572">0</text></g>
<g id="t56" transform="translate(284.47,647.62) rotate(-90) scale(0.9989,1)"><text font-size="17.075">OD450nm</text></g>
<g id="t57" transform="translate(374.59,709.78) rotate(-90) scale(1.2076,1)"><path transform="translate(0.000,0) scale(0.01344,-0.01344)" d="M359,0 L359,703 L290,703 Q268,612 101,590 L101,525 Q216,536 279,584 L279,0 Z" stroke-width="8.93"/><text x="7.473" font-size="13.440">w</text></g>
<g id="t58" transform="translate(408.79,711.59) rotate(-90) scale(1.0202,1)"><text font-size="15.392">2w</text></g>
<g id="t59" transform="translate(441.72,712.23) rotate(-90) scale(1.0637,1)"><text font-size="15.236">3w</text></g>
<g id="t60" transform="translate(473.79,711.38) rotate(-90) scale(1.0473,1)"><text font-size="14.817">4w</text></g>
<g id="t61" transform="translate(507.3,711.87) rotate(-90) scale(1.0354,1)"><text font-size="15.216">5w</text></g>
<g id="t62" transform="translate(400.1,736.38) scale(1.0141,1)"><text font-size="15.754">Time</text></g>
<g id="t63" transform="translate(68.99,740.67) rotate(-90) scale(1.1837,1)"><text font-size="13.872">before</text></g>
<g id="t64" transform="translate(343.96,739.44) rotate(-90) scale(1.0779,1)"><text font-size="15.083">before</text></g>
</svg>
</body></html>
